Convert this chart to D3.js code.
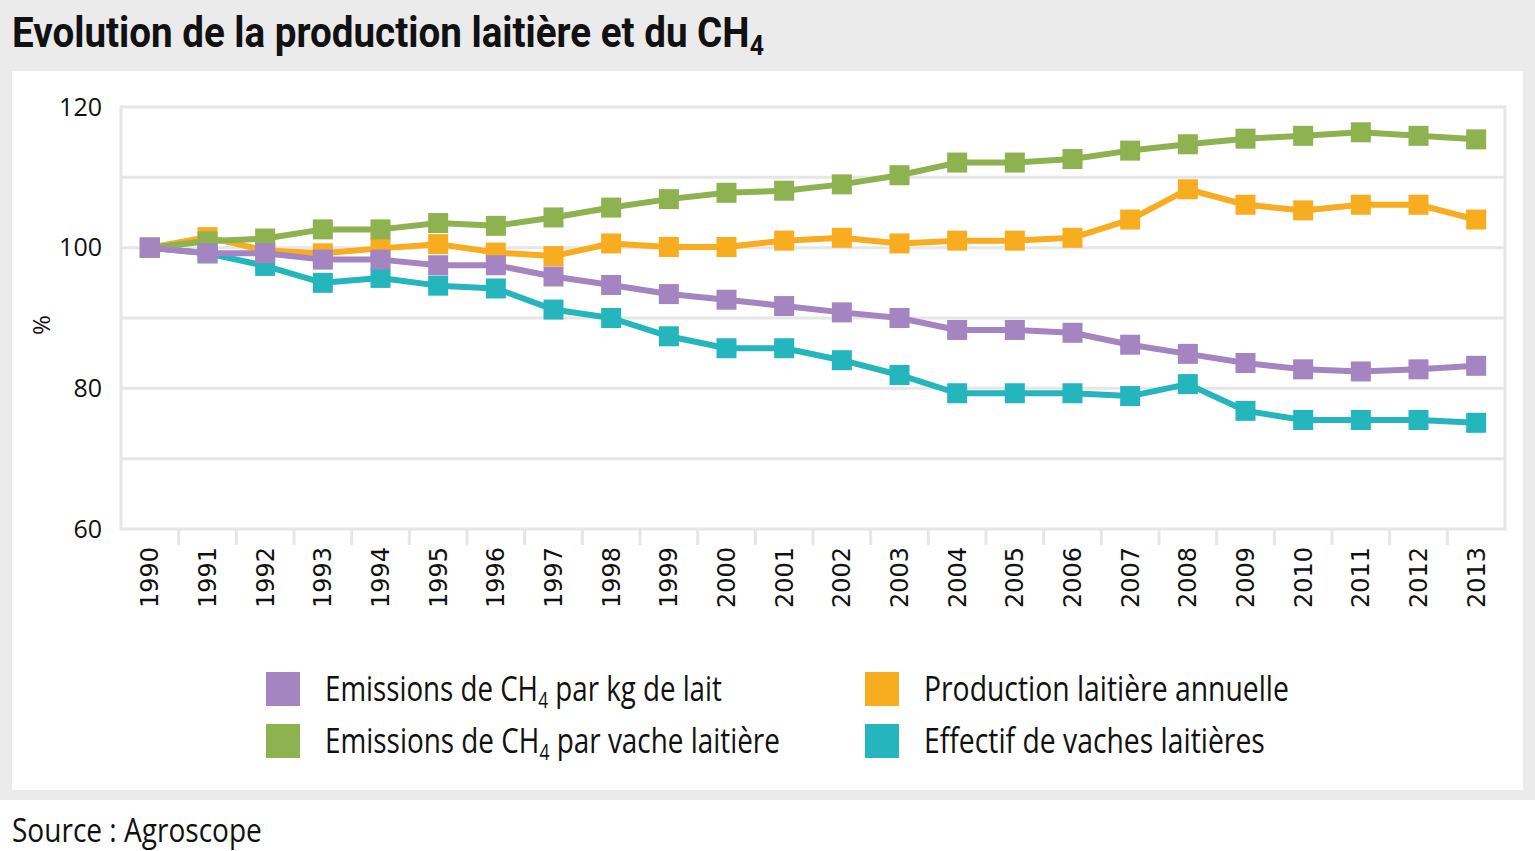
<!DOCTYPE html>
<html>
    <head>
        <meta charset="utf-8">
        <script src="https://cdn.jsdelivr.net/npm/d3@7"></script>
        <style>
            body { margin: 0; background: #fff; }
            text { fill: #111; }
        </style>
    </head>
    <body>
        <div id="chart"></div>

        <script type="text/javascript">

         // years on the category axis
         var years = ["1990","1991","1992","1993","1994","1995","1996","1997","1998","1999","2000","2001",
                      "2002","2003","2004","2005","2006","2007","2008","2009","2010","2011","2012","2013"];

         // values (1990 = 100)
         var effectifVaches = [100, 99.2, 97.4, 95.0, 95.7, 94.6, 94.2, 91.2, 90.0, 87.4, 85.7, 85.7,
                               84.0, 81.9, 79.3, 79.3, 79.3, 78.9, 80.6, 76.8, 75.5, 75.5, 75.5, 75.1];
         var productionAnnuelle = [100, 101.5, 99.6, 99.2, 99.9, 100.5, 99.3, 98.8, 100.6, 100.1, 100.1, 101.0,
                                   101.4, 100.6, 101.0, 101.0, 101.4, 104.0, 108.3, 106.1, 105.3, 106.1, 106.1, 104.0];
         var ch4ParVache = [100, 100.9, 101.3, 102.6, 102.6, 103.5, 103.1, 104.3, 105.7, 106.9, 107.8, 108.1,
                            109.0, 110.3, 112.1, 112.1, 112.6, 113.8, 114.7, 115.5, 115.9, 116.4, 115.9, 115.4];
         var ch4ParKg = [100, 99.2, 99.2, 98.3, 98.3, 97.5, 97.5, 95.9, 94.7, 93.4, 92.6, 91.7,
                         90.8, 90.0, 88.3, 88.3, 87.9, 86.2, 84.9, 83.6, 82.7, 82.4, 82.7, 83.2];

         var yTicks = [60, 80, 100, 120];
         var yGrid = [70, 80, 90, 100, 110, 120];

         // drawing order: the last one sits on top
         var series = [
             {name: "Effectif de vaches laitières", values: effectifVaches, color: "#25b5bc"},
             {name: "Production laitière annuelle", values: productionAnnuelle, color: "#f8ac20"},
             {name: "Emissions de CH4 par vache laitière", values: ch4ParVache, color: "#8db24f"},
             {name: "Emissions de CH4 par kg de lait", values: ch4ParKg, color: "#a585c1"}
         ];

         var W = 1535, H = 851;
         var svg = d3.select("#chart").append("svg")
                     .attr("width", W)
                     .attr("height", H);

         // grey frame + white card
         svg.append("rect").attr("x", 0).attr("y", 0).attr("width", W).attr("height", 800).attr("fill", "#ebebeb");
         svg.append("rect").attr("x", 12).attr("y", 71).attr("width", 1511).attr("height", 719).attr("fill", "#fff");

         /**
          * writes text in pieces (main, subscript, rest) side by side,
          * then squeezes the group horizontally to the wanted width
          */
         function squeezedText(parent, px, py, pieces, family, weight, size, subSize, width) {
             var g = parent.append("g");
             var cx = 0;
             pieces.forEach(function(p) {
                 if (!p.t) return;
                 var t = g.append("text")
                          .attr("x", cx)
                          .attr("y", p.sub ? Math.round(size * 0.2) : 0)
                          .style("white-space", "pre")
                          .style("font-family", family)
                          .style("font-weight", weight)
                          .style("font-size", (p.sub ? subSize : size) + "px")
                          .text(p.t);
                 cx += t.node().getComputedTextLength();
             });
             var k = width / cx;
             g.attr("transform", "translate(" + px + "," + py + ") scale(" + k + ",1)");
             return g;
         }

         var titleFont = "Roboto, 'Open Sans', sans-serif";
         squeezedText(svg, 12, 47,
                      [{t: "Evolution de la production laitière et du CH"}, {t: "4", sub: true}],
                      titleFont, 700, 42, 27, 752);

         var x = d3.scaleBand().domain(years).range([121, 1505]).padding(0);
         var y = d3.scaleLinear().domain([60, 120]).range([529, 107]);

         var grid = "#e6e6e6";

         // horizontal gridlines
         svg.append("g").selectAll("line")
            .data(yGrid).enter().append("line")
            .attr("x1", 121).attr("x2", 1505)
            .attr("y1", function(d) { return y(d); })
            .attr("y2", function(d) { return y(d); })
            .attr("stroke", grid).attr("stroke-width", 3);

         // plot border left / right / bottom
         svg.append("line").attr("x1", 121).attr("x2", 121).attr("y1", y(120) - 1.5).attr("y2", y(60) + 1.5)
            .attr("stroke", grid).attr("stroke-width", 3);
         svg.append("line").attr("x1", 1505).attr("x2", 1505).attr("y1", y(120) - 1.5).attr("y2", y(60) + 1.5)
            .attr("stroke", grid).attr("stroke-width", 3);
         svg.append("line").attr("x1", 121).attr("x2", 1505).attr("y1", y(60)).attr("y2", y(60))
            .attr("stroke", grid).attr("stroke-width", 3);

         // tick marks between categories
         svg.append("g").selectAll("line")
            .data(years.slice(1)).enter().append("line")
            .attr("x1", function(d) { return x(d); })
            .attr("x2", function(d) { return x(d); })
            .attr("y1", y(60)).attr("y2", y(60) + 16)
            .attr("stroke", grid).attr("stroke-width", 3);

         // y axis labels
         var yAxis = svg.append("g")
                        .attr("transform", "translate(121,0)")
                        .call(d3.axisLeft(y).tickValues(yTicks).tickSize(0).tickPadding(19));
         yAxis.select(".domain").remove();
         yAxis.selectAll("text")
              .style("font-family", "'Open Sans', sans-serif")
              .style("font-size", "25px")
              .attr("fill", "#111");

         // x axis labels, rotated
         var xAxis = svg.append("g")
                        .attr("transform", "translate(0," + y(60) + ")")
                        .call(d3.axisBottom(x).tickSize(0));
         xAxis.select(".domain").remove();
         xAxis.selectAll("text")
              .style("font-family", "'DejaVu Sans', sans-serif")
              .style("font-size", "24px")
              .attr("fill", "#111")
              .attr("transform", "rotate(-90)")
              .attr("text-anchor", "end")
              .attr("x", -18)
              .attr("y", 0)
              .attr("dy", "0.36em");

         svg.append("text")
            .attr("transform", "translate(50,325) rotate(-90)")
            .attr("text-anchor", "middle")
            .style("font-family", "'Open Sans', sans-serif")
            .style("font-size", "24px")
            .text("%");

         // lines and square markers
         var line = d3.line()
                      .x(function(d, i) { return x(years[i]) + x.bandwidth() / 2; })
                      .y(function(d) { return y(d); });

         var m = 20;
         series.forEach(function(s) {
             var g = svg.append("g");
             g.append("path")
              .attr("d", line(s.values))
              .attr("fill", "none")
              .attr("stroke", s.color)
              .attr("stroke-width", 6)
              .attr("stroke-linejoin", "round");
             g.selectAll("rect")
              .data(s.values).enter().append("rect")
              .attr("x", function(d, i) { return x(years[i]) + x.bandwidth() / 2 - m / 2; })
              .attr("y", function(d) { return y(d) - m / 2; })
              .attr("width", m).attr("height", m)
              .attr("fill", s.color);
         });

         // legend
         var legendItems = [
             {pieces: [{t: "Emissions de CH"}, {t: "4", sub: true}, {t: " par kg de lait"}], color: "#a585c1", x: 266, y: 672, len: 397},
             {pieces: [{t: "Production laitière annuelle"}], color: "#f8ac20", x: 865, y: 672, len: 365},
             {pieces: [{t: "Emissions de CH"}, {t: "4", sub: true}, {t: " par vache laitière"}], color: "#8db24f", x: 266, y: 724, len: 455},
             {pieces: [{t: "Effectif de vaches laitières"}], color: "#25b5bc", x: 865, y: 724, len: 341}
         ];

         var legend = svg.append("g");
         legendItems.forEach(function(d) {
             legend.append("rect")
                   .attr("x", d.x).attr("y", d.y)
                   .attr("width", 34).attr("height", 34)
                   .attr("fill", d.color);
             squeezedText(legend, d.x + 59, d.y + 29, d.pieces,
                          "'Open Sans', sans-serif", 400, 35, 22, d.len);
         });

         squeezedText(svg, 12, 842, [{t: "Source : Agroscope"}],
                      "'Open Sans', sans-serif", 400, 33, 20, 250);

        </script>
    </body>
</html>
